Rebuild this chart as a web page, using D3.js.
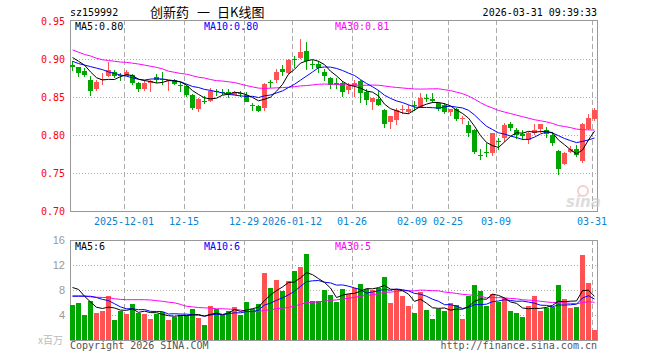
<!DOCTYPE html>
<html>
<head>
<meta charset="utf-8">
<script src="https://cdn.jsdelivr.net/npm/d3@7"></script>
<style>
  body { margin: 0; background: #fff; }
  svg { display: block; }
</style>
</head>
<body>
<svg id="chart" width="660" height="360"></svg>
<script>
// trading days shown on the chart
const dates = [
  '2025-11-18', '2025-11-19', '2025-11-20', '2025-11-21', '2025-11-24', '2025-11-25', '2025-11-26', '2025-11-27', '2025-11-28',
  '2025-12-01', '2025-12-02', '2025-12-03', '2025-12-04', '2025-12-05', '2025-12-08', '2025-12-09', '2025-12-10', '2025-12-11', '2025-12-12',
  '2025-12-15', '2025-12-16', '2025-12-17', '2025-12-18', '2025-12-19', '2025-12-22', '2025-12-23', '2025-12-24', '2025-12-25', '2025-12-26',
  '2025-12-29', '2025-12-30', '2025-12-31',
  '2026-01-05', '2026-01-06', '2026-01-07', '2026-01-08', '2026-01-09', '2026-01-12', '2026-01-13', '2026-01-14', '2026-01-15', '2026-01-16',
  '2026-01-19', '2026-01-20', '2026-01-21', '2026-01-22', '2026-01-23', '2026-01-26', '2026-01-27', '2026-01-28', '2026-01-29', '2026-01-30',
  '2026-02-02', '2026-02-03', '2026-02-04', '2026-02-05', '2026-02-06', '2026-02-09', '2026-02-10', '2026-02-11', '2026-02-12', '2026-02-13',
  '2026-02-24', '2026-02-25', '2026-02-26', '2026-02-27',
  '2026-03-02', '2026-03-03', '2026-03-04', '2026-03-05', '2026-03-06', '2026-03-09', '2026-03-10', '2026-03-11', '2026-03-12', '2026-03-13',
  '2026-03-16', '2026-03-17', '2026-03-18', '2026-03-19', '2026-03-20', '2026-03-23', '2026-03-24', '2026-03-25', '2026-03-26', '2026-03-27',
  '2026-03-30', '2026-03-31'
];

const open = [
  0.892, 0.889, 0.884, 0.873, 0.861, 0.872, 0.878, 0.883, 0.879, 0.878,
  0.879, 0.868, 0.861, 0.869, 0.876, 0.874, 0.871, 0.872, 0.866, 0.865,
  0.853, 0.834, 0.845, 0.845, 0.858, 0.857, 0.856, 0.853, 0.855, 0.853,
  0.840, 0.838, 0.836, 0.870, 0.872, 0.887, 0.882, 0.900, 0.901, 0.911,
  0.894, 0.894, 0.883, 0.875, 0.868, 0.868, 0.859, 0.865, 0.871, 0.857,
  0.843, 0.848, 0.833, 0.817, 0.820, 0.833, 0.830, 0.840, 0.837, 0.849,
  0.848, 0.842, 0.839, 0.830, 0.834, 0.821, 0.813, 0.806, 0.774, 0.778,
  0.776, 0.792, 0.796, 0.815, 0.806, 0.801, 0.794, 0.802, 0.808, 0.806,
  0.800, 0.779, 0.762, 0.778, 0.782, 0.766, 0.808, 0.821
];
const high = [
  0.897, 0.890, 0.888, 0.877, 0.872, 0.882, 0.896, 0.885, 0.881, 0.885,
  0.880, 0.870, 0.872, 0.872, 0.880, 0.883, 0.873, 0.874, 0.870, 0.866,
  0.854, 0.849, 0.851, 0.862, 0.860, 0.860, 0.860, 0.858, 0.858, 0.856,
  0.842, 0.840, 0.869, 0.873, 0.887, 0.892, 0.900, 0.904, 0.926, 0.923,
  0.899, 0.897, 0.887, 0.876, 0.875, 0.871, 0.868, 0.872, 0.873, 0.860,
  0.849, 0.859, 0.834, 0.825, 0.836, 0.839, 0.840, 0.845, 0.855, 0.854,
  0.855, 0.844, 0.842, 0.834, 0.835, 0.825, 0.818, 0.808, 0.782, 0.789,
  0.802, 0.796, 0.816, 0.817, 0.809, 0.807, 0.804, 0.815, 0.815, 0.810,
  0.804, 0.780, 0.777, 0.785, 0.787, 0.816, 0.827, 0.835
];
const low = [
  0.884, 0.876, 0.876, 0.851, 0.858, 0.866, 0.876, 0.875, 0.871, 0.877,
  0.866, 0.856, 0.858, 0.857, 0.869, 0.866, 0.858, 0.866, 0.857, 0.850,
  0.833, 0.830, 0.841, 0.843, 0.851, 0.852, 0.849, 0.852, 0.850, 0.843,
  0.832, 0.830, 0.831, 0.862, 0.868, 0.878, 0.880, 0.888, 0.900, 0.886,
  0.887, 0.882, 0.871, 0.860, 0.860, 0.850, 0.854, 0.850, 0.842, 0.839,
  0.833, 0.838, 0.809, 0.808, 0.813, 0.827, 0.827, 0.832, 0.835, 0.844,
  0.842, 0.831, 0.827, 0.825, 0.819, 0.815, 0.797, 0.775, 0.767, 0.771,
  0.773, 0.780, 0.791, 0.805, 0.795, 0.794, 0.788, 0.800, 0.802, 0.796,
  0.786, 0.748, 0.760, 0.776, 0.771, 0.763, 0.806, 0.819
];
const close = [
  0.889, 0.881, 0.879, 0.858, 0.870, 0.874, 0.885, 0.878, 0.877, 0.883,
  0.868, 0.861, 0.869, 0.871, 0.873, 0.872, 0.873, 0.867, 0.864, 0.852,
  0.836, 0.848, 0.844, 0.858, 0.856, 0.856, 0.854, 0.857, 0.854, 0.844,
  0.838, 0.832, 0.867, 0.868, 0.883, 0.883, 0.899, 0.899, 0.909, 0.897,
  0.892, 0.888, 0.877, 0.866, 0.866, 0.856, 0.864, 0.868, 0.855, 0.846,
  0.849, 0.839, 0.814, 0.825, 0.833, 0.834, 0.834, 0.838, 0.849, 0.848,
  0.845, 0.834, 0.830, 0.834, 0.821, 0.823, 0.803, 0.777, 0.772, 0.776,
  0.802, 0.791, 0.813, 0.809, 0.800, 0.799, 0.803, 0.807, 0.814, 0.801,
  0.790, 0.755, 0.776, 0.781, 0.774, 0.815, 0.822, 0.833
];
// volume, millions of shares
const volume = [
  5.64, 5.96, 3.94, 6.28, 4.36, 4.68, 7.07, 3.24, 4.57, 4.20,
  5.80, 4.30, 4.20, 3.40, 4.15, 4.47, 3.24, 3.72, 4.04, 4.04,
  5.00, 3.56, 2.45, 5.48, 5.00, 3.94, 4.68, 5.32, 3.94, 6.12,
  5.00, 5.80, 10.74, 8.35, 9.63, 7.87, 9.47, 11.06, 11.70, 13.78,
  6.28, 6.28, 8.03, 7.23, 6.12, 8.19, 7.39, 8.35, 8.99, 8.19,
  8.03, 8.35, 10.10, 5.96, 8.03, 7.07, 5.48, 4.36, 7.71, 4.84,
  3.40, 5.00, 4.68, 5.96, 5.64, 3.40, 7.07, 8.83, 7.87, 5.48,
  7.39, 6.12, 6.76, 4.68, 4.36, 3.72, 5.48, 7.07, 4.68, 5.16,
  5.32, 8.83, 6.60, 5.16, 5.32, 13.60, 9.15, 1.65
];

// moving average values before enough days are in view
const ma5Head = [0.902, 0.897, 0.892, 0.883];
const ma10Head = [0.897, 0.894, 0.892, 0.890, 0.888, 0.886, 0.883, 0.881, 0.879];
const ma30Head = [
  0.912, 0.909, 0.906, 0.904, 0.901, 0.899, 0.898, 0.897, 0.896, 0.8956,
  0.8945, 0.8934, 0.892, 0.8905, 0.889, 0.887, 0.884, 0.8825, 0.881, 0.880,
  0.878, 0.876, 0.875, 0.873, 0.8715, 0.871, 0.870, 0.869, 0.867
];
const volMa5Head = [8.4, 8.1, 7.0, 6.1];
const volMa10Head = [7.0, 7.0, 7.0, 7.0, 6.8, 6.5, 6.3, 5.8, 5.3];
const volMa30Head = [
  7.07, 7.07, 7.05, 6.9, 6.85, 6.8, 6.78, 6.6, 6.5, 6.45,
  6.45, 6.45, 6.45, 6.4, 6.3, 6.2, 6.05, 5.95, 5.7, 5.4,
  5.3, 5.2, 5.15, 5.1, 5.0, 5.0, 4.95, 4.9, 4.8
];

const priceTicks = [0.70, 0.75, 0.80, 0.85, 0.90, 0.95];
const volTicks = [4, 8, 12, 16];
const tickDates = ['2025-12-01', '2025-12-15', '2025-12-29', '2026-01-12', '2026-01-26', '2026-02-09', '2026-02-25', '2026-03-09', '2026-03-31'];
const tickLabels = ['2025-12-01', '12-15', '12-29', '2026-01-12', '01-26', '02-09', '02-25', '03-09', '03-31'];

const RED = '#ff5252';
const GREEN = '#00a600';
const MONO = '"DejaVu Sans Mono", monospace';

function movingAvg(values, n, head) {
  return values.map((v, i) => i < n - 1 ? head[i] : d3.mean(values.slice(i - n + 1, i + 1)));
}

const svg = d3.select('#chart');
const left = 70, right = 597;
const x = d3.scaleBand().domain(dates).range([left, right]).paddingInner(1 / 6).paddingOuter(0);
const cx = d => Math.round(x(d)) + 2.5;

const yP = d3.scaleLinear().domain([0.70, 0.95]).range([211, 21]);
const yV = d3.scaleLinear().domain([0, 16]).range([340, 240]);

// header texts
svg.append('text').attr('x', 70).attr('y', 16).text('sz159992')
  .style('font-family', MONO).style('font-size', '10px').attr('fill', '#000');
svg.append('text').attr('x', 150).attr('y', 17).text('创新药')
  .style('font-family', '"Noto Sans CJK SC"').style('font-size', '13px').attr('fill', '#000');
svg.append('text').attr('x', 197).attr('y', 17).text('一')
  .style('font-family', '"Noto Sans CJK SC"').style('font-size', '13px').attr('fill', '#000');
svg.append('text').attr('x', 217).attr('y', 17).text('日K线图')
  .style('font-family', '"Noto Sans CJK SC"').style('font-size', '13px').attr('fill', '#000');
svg.append('text').attr('x', 597).attr('y', 16).attr('text-anchor', 'end').text('2026-03-31 09:39:33')
  .style('font-family', MONO).style('font-size', '10px').attr('fill', '#000');

function drawPanel(y, top, bottom, gridValues) {
  const g = svg.append('g');
  // horizontal dotted grid
  g.selectAll('line.h').data(gridValues).join('line')
    .attr('x1', left).attr('x2', right)
    .attr('y1', d => Math.round(y(d)) + 0.5).attr('y2', d => Math.round(y(d)) + 0.5)
    .attr('stroke', '#aaa').attr('stroke-dasharray', '1,2');
  // vertical dashed grid at tick dates
  g.selectAll('line.v').data(tickDates).join('line')
    .attr('x1', d => Math.round(x(d)) + 0.5).attr('x2', d => Math.round(x(d)) + 0.5)
    .attr('y1', top).attr('y2', bottom)
    .attr('stroke', '#aaa').attr('stroke-dasharray', '5,3');
  // frame
  g.append('rect').attr('x', left + 0.5).attr('y', top + 0.5)
    .attr('width', right - left).attr('height', bottom - top)
    .attr('fill', 'none').attr('stroke', '#999');
  return g;
}

// ---- price panel
drawPanel(yP, 20, 211, [0.75, 0.80, 0.85, 0.90]);

const priceAxis = svg.append('g').attr('transform', 'translate(68,0)')
  .call(d3.axisLeft(yP).tickValues(priceTicks).tickFormat(d3.format('.2f')).tickSize(0).tickPadding(3));
priceAxis.select('.domain').remove();
priceAxis.selectAll('text').style('font-family', MONO).style('font-size', '10px').attr('fill', '#ff0000');

svg.append('g').selectAll('text').data(tickDates).join('text')
  .attr('x', d => Math.round(x(d)))
  .attr('y', 225)
  .attr('text-anchor', 'middle')
  .text((d, i) => tickLabels[i])
  .style('font-family', MONO).style('font-size', '10px').attr('fill', '#0a84d2');

// sina watermark
const wm = svg.append('g').attr('opacity', 0.6);
wm.append('circle').attr('cx', 583).attr('cy', 191).attr('r', 5).attr('fill', 'none').attr('stroke', '#f0b0b0').attr('stroke-width', 2);
wm.append('text').attr('x', 566).attr('y', 207).text('sina')
  .style('font-family', '"DejaVu Sans"').style('font-size', '15px').style('font-weight', 'bold').style('font-style', 'italic')
  .attr('fill', '#c8c8c8');

const candles = svg.append('g').selectAll('g').data(dates).join('g')
  .attr('fill', (d, i) => close[i] >= open[i] ? RED : GREEN)
  .attr('stroke', (d, i) => close[i] >= open[i] ? RED : GREEN);
candles.append('line')
  .attr('x1', d => cx(d)).attr('x2', d => cx(d))
  .attr('y1', (d, i) => Math.round(yP(high[i])))
  .attr('y2', (d, i) => Math.round(yP(low[i])));
candles.append('rect')
  .attr('stroke', 'none')
  .attr('x', d => Math.round(x(d)))
  .attr('width', 5)
  .attr('y', (d, i) => Math.round(yP(Math.max(open[i], close[i]))))
  .attr('height', (d, i) => Math.max(1, Math.round(yP(Math.min(open[i], close[i]))) - Math.round(yP(Math.max(open[i], close[i])))));

const priceLine = d3.line().x((v, i) => cx(dates[i])).y(v => yP(v));
[[movingAvg(close, 30, ma30Head), '#ff00ff'], [movingAvg(close, 10, ma10Head), '#0000ff'], [movingAvg(close, 5, ma5Head), '#000']]
  .forEach(([vals, color]) => {
    svg.append('path').attr('d', priceLine(vals)).attr('fill', 'none').attr('stroke', color).attr('stroke-width', 1);
  });

function legend(yPos, items) {
  items.forEach(([label, color, xPos]) => {
    svg.append('text').attr('x', xPos).attr('y', yPos).text(label)
      .style('font-family', MONO).style('font-size', '10px').attr('fill', color);
  });
}
legend(30, [['MA5:0.80', '#000', 75], ['MA10:0.80', '#0000ff', 204], ['MA30:0.81', '#ff00ff', 335]]);

// ---- volume panel
drawPanel(yV, 240, 340, [4, 8, 12]);

const volAxis = svg.append('g').attr('transform', 'translate(67,0)')
  .call(d3.axisLeft(yV).tickValues(volTicks).tickSize(0).tickPadding(2));
volAxis.select('.domain').remove();
volAxis.selectAll('text').style('font-family', '"Liberation Sans", Arial').style('font-size', '11px').attr('fill', '#999');

svg.append('text').attr('x', 38).attr('y', 344).text('x百万')
  .style('font-family', '"Noto Sans CJK SC"').style('font-size', '10px').attr('fill', '#bbb');

svg.append('g').selectAll('rect').data(dates).join('rect')
  .attr('x', d => Math.round(x(d)))
  .attr('width', 5)
  .attr('y', (d, i) => Math.round(yV(volume[i])))
  .attr('height', (d, i) => yV(0) - Math.round(yV(volume[i])))
  .attr('fill', (d, i) => close[i] >= open[i] ? RED : GREEN);

const volLine = d3.line().x((v, i) => cx(dates[i])).y(v => yV(v));
[[movingAvg(volume, 30, volMa30Head), '#ff00ff'], [movingAvg(volume, 10, volMa10Head), '#0000ff'], [movingAvg(volume, 5, volMa5Head), '#000']]
  .forEach(([vals, color]) => {
    svg.append('path').attr('d', volLine(vals)).attr('fill', 'none').attr('stroke', color).attr('stroke-width', 1);
  });

legend(250, [['MA5:6', '#000', 75], ['MA10:6', '#0000ff', 204], ['MA30:5', '#ff00ff', 335]]);

// footer
svg.append('text').attr('x', 70).attr('y', 349).text('Copyright 2026 SINA.COM')
  .style('font-family', MONO).style('font-size', '10px').attr('fill', '#555');
svg.append('text').attr('x', 597).attr('y', 349).attr('text-anchor', 'end').text('http://finance.sina.com.cn')
  .style('font-family', MONO).style('font-size', '10px').attr('fill', '#555');
</script>
</body>
</html>
